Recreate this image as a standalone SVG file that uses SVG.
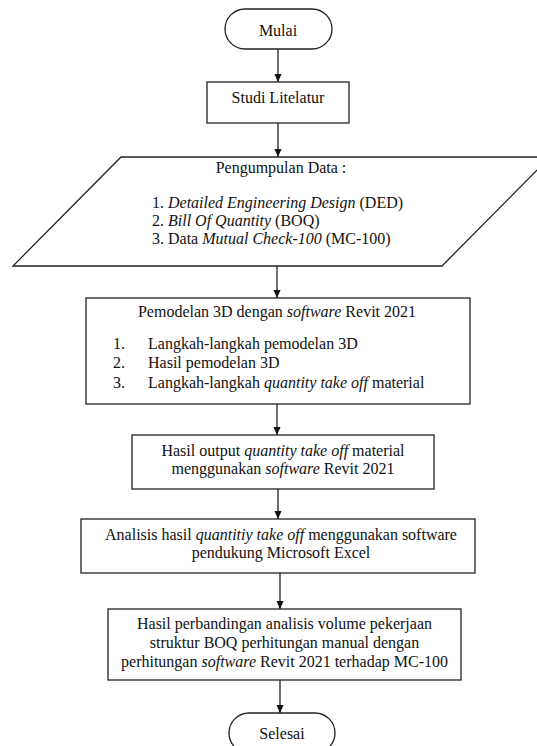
<svg xmlns="http://www.w3.org/2000/svg" width="537" height="746" viewBox="0 0 537 746">
<defs>
<marker id="arr" markerUnits="userSpaceOnUse" markerWidth="8" markerHeight="9" refX="4" refY="9" orient="auto-start-reverse" viewBox="0 0 8 9">
<path d="M0,0 L8,0 L4,9 z" fill="#111" transform="rotate(0)"/>
</marker>
<marker id="ah" markerUnits="userSpaceOnUse" markerWidth="8" markerHeight="9" refX="9" refY="4" orient="auto" viewBox="0 0 9 8">
<path d="M0,0 L9,4 L0,8 z" fill="#111"/>
</marker>
</defs>
<style>
.s{fill:#fff;stroke:#222;stroke-width:1.3}
.t{font-family:"Liberation Serif","Times New Roman",serif;font-size:16px;fill:#111}
.c{text-anchor:middle}
.i{font-style:italic}
.e{stroke:#222;stroke-width:1.3;fill:none;marker-end:url(#ah)}
</style>
<rect width="537" height="746" fill="#fff"/>
<g id="connectors">
<line class="e" x1="278" y1="49" x2="278" y2="82"/>
<line class="e" x1="278" y1="123" x2="278" y2="157"/>
<line class="e" x1="277" y1="266" x2="277" y2="298"/>
<line class="e" x1="277" y1="404" x2="277" y2="435"/>
<line class="e" x1="278" y1="489" x2="278" y2="519"/>
<line class="e" x1="280" y1="573" x2="280" y2="609"/>
<line class="e" x1="280" y1="680" x2="280" y2="713"/>
</g>
<g id="mulai">
<rect class="s" x="225" y="9" width="107" height="40" rx="20" ry="20"/>
<text class="t c" x="278" y="36">Mulai</text>
</g>
<g id="studi">
<rect class="s" x="207" y="82" width="142" height="41"/>
<text class="t c" x="278" y="103">Studi Litelatur</text>
</g>
<g id="pengumpulan">
<polygon class="s" points="121,157 550,157 442,266 13,266"/>
<text class="t c" x="281" y="173">Pengumpulan Data :</text>
<text class="t" x="152" y="208">1.</text>
<text class="t" x="168" y="208"><tspan class="i">Detailed Engineering Design</tspan> (DED)</text>
<text class="t" x="152" y="226">2.</text>
<text class="t" x="168" y="226"><tspan class="i">Bill Of Quantity</tspan> (BOQ)</text>
<text class="t" x="152" y="244">3.</text>
<text class="t" x="168" y="244">Data <tspan class="i">Mutual Check-100</tspan> (MC-100)</text>
</g>
<g id="pemodelan">
<rect class="s" x="86" y="298" width="384" height="106"/>
<text class="t c" x="277" y="317">Pemodelan 3D dengan <tspan class="i">software</tspan> Revit 2021</text>
<text class="t" x="113" y="349">1.</text>
<text class="t" x="148" y="349">Langkah-langkah pemodelan 3D</text>
<text class="t" x="113" y="368">2.</text>
<text class="t" x="148" y="368">Hasil pemodelan 3D</text>
<text class="t" x="113" y="388">3.</text>
<text class="t" x="148" y="388">Langkah-langkah <tspan class="i">quantity take off</tspan> material</text>
</g>
<g id="hasil-output">
<rect class="s" x="132" y="435" width="302" height="54"/>
<text class="t c" x="283" y="456">Hasil output <tspan class="i">quantity take off</tspan> material</text>
<text class="t c" x="283" y="474">menggunakan <tspan class="i">software</tspan> Revit 2021</text>
</g>
<g id="analisis">
<rect class="s" x="81" y="519" width="394" height="54"/>
<text class="t c" x="281" y="540">Analisis hasil <tspan class="i">quantitiy take off</tspan> menggunakan software</text>
<text class="t c" x="281" y="558">pendukung Microsoft Excel</text>
</g>
<g id="perbandingan">
<rect class="s" x="108" y="609" width="353" height="71"/>
<text class="t c" x="284.5" y="629">Hasil perbandingan analisis volume pekerjaan</text>
<text class="t c" x="284.5" y="648">struktur BOQ perhitungan manual dengan</text>
<text class="t c" x="284.5" y="667">perhitungan <tspan class="i">software</tspan> Revit 2021 terhadap MC-100</text>
</g>
<g id="selesai">
<rect class="s" x="229" y="713" width="106" height="40" rx="20" ry="20"/>
<text class="t c" x="282" y="739">Selesai</text>
</g>
</svg>
